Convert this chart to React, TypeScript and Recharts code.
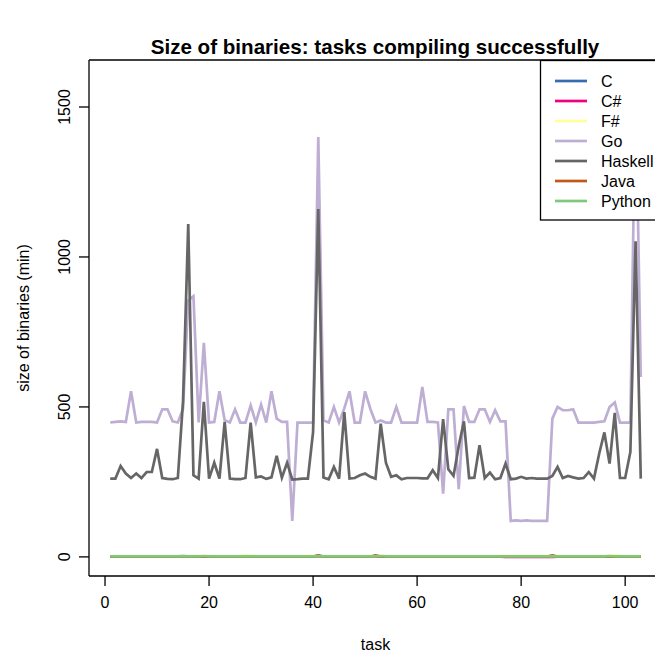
import React from 'react';
import { LineChart, Line, XAxis, YAxis, ReferenceLine } from 'recharts';

const seriesNames = ['C', 'C#', 'F#', 'Go', 'Haskell', 'Java', 'Python'];
const seriesColors = ['#386CB0', '#F0027F', '#FFFF99', '#BEAED4', '#666666', '#BF5B17', '#7FC97F'];

const cValues = [
  2, 2, 2, 2, 2, 2, 2, 2, 2, 2, 2, 2, 2, 2, 3, 2, 2, 2, 2, 2,
  2, 2, 2, 2, 2, 2, 2, 2, 2, 2, 2, 2, 2, 2, 2, 2, 2, 2, 2, 2,
  3, 2, 2, 2, 2, 2, 2, 2, 2, 2, 2, 2, 2, 2, 2, 2, 2, 2, 2, 2,
  2, 2, 2, 2, 2, 2, 2, 2, 2, 2, 2, 2, 2, 2, 2, 2, 2, 2, 2, 2,
  2, 2, 2, 2, 2, 2, 2, 2, 2, 2, 2, 2, 2, 2, 2, 2, 2, 2, 2, 2,
  2, 2, 2,
];
const csValues = [
  1, 1, 1, 1, 1, 1, 1, 1, 1, 1, 1, 1, 1, 1, 1, 1, 1, 1, 1, 1,
  1, 1, 1, 1, 1, 1, 1, 1, 1, 1, 1, 1, 1, 1, 1, 1, 1, 1, 1, 1,
  1, 1, 1, 1, 1, 1, 1, 1, 1, 1, 1, 1, 1, 1, 1, 1, 1, 1, 1, 1,
  1, 1, 1, 1, 1, 1, 1, 1, 1, 1, 1, 1, 1, 1, 1, 1, 0, 0, 0, 0,
  0, 0, 0, 0, 0, 0, 1, 1, 1, 1, 1, 1, 1, 1, 1, 1, 1, 1, 1, 1,
  1, 1, 1,
];
const fsValues = [
  3, 3, 3, 3, 3, 3, 3, 3, 3, 3, 3, 3, 3, 3, 3, 3, 3, 3, 3, 3,
  3, 3, 3, 3, 3, 3, 5, 3, 3, 3, 3, 3, 3, 3, 3, 3, 3, 3, 3, 3,
  3, 3, 3, 3, 3, 3, 3, 3, 3, 3, 3, 3, 3, 3, 3, 3, 3, 3, 3, 3,
  3, 3, 3, 3, 3, 3, 3, 3, 3, 3, 3, 3, 3, 3, 3, 3, 3, 3, 3, 3,
  3, 3, 3, 3, 3, 3, 3, 3, 3, 3, 3, 3, 3, 3, 3, 3, 3, 6, 3, 3,
  3, 3, 3,
];
const goValues = [
  448, 450, 452, 450, 552, 448, 450, 450, 450, 448,
  492, 492, 452, 448, 494, 855, 869, 448, 714, 448,
  450, 552, 456, 448, 492, 448, 448, 505, 448, 508,
  448, 552, 461, 450, 450, 120, 448, 448, 448, 448,
  1400, 455, 448, 500, 448, 495, 552, 448, 448, 552,
  494, 448, 455, 448, 448, 500, 448, 448, 448, 448,
  567, 450, 450, 448, 211, 492, 492, 226, 503, 450,
  450, 492, 492, 450, 489, 452, 452, 120, 122, 120,
  122, 120, 120, 120, 120, 461, 500, 489, 489, 492,
  448, 448, 448, 448, 450, 452, 500, 515, 448, 448,
  448, 1590, 600,
];
const haskellValues = [
  261, 261, 303, 278, 263, 278, 263, 283, 283, 360,
  263, 260, 259, 263, 520, 1110, 272, 261, 517, 261,
  314, 261, 450, 261, 259, 259, 263, 448, 265, 268,
  260, 265, 337, 264, 314, 258, 259, 261, 261, 417,
  1160, 265, 259, 300, 261, 483, 261, 263, 272, 278,
  267, 261, 444, 314, 267, 272, 259, 263, 263, 263,
  262, 262, 289, 263, 459, 292, 270, 370, 452, 263,
  264, 372, 263, 281, 259, 263, 311, 259, 261, 267,
  261, 263, 261, 261, 261, 270, 300, 263, 270, 265,
  261, 263, 283, 261, 344, 415, 311, 480, 263, 263,
  350, 1052, 261,
];
const javaValues = [
  1, 1, 1, 1, 1, 1, 1, 1, 1, 1, 1, 1, 1, 1, 1, 1, 1, 1, 1, 1,
  1, 1, 1, 1, 1, 1, 1, 1, 1, 1, 1, 1, 1, 1, 1, 1, 1, 1, 1, 1,
  5, 1, 1, 1, 1, 1, 1, 1, 1, 1, 1, 5, 1, 1, 1, 1, 1, 1, 1, 1,
  1, 1, 1, 1, 1, 1, 1, 1, 1, 1, 1, 1, 1, 1, 1, 1, 1, 1, 1, 1,
  1, 1, 1, 1, 1, 5, 1, 1, 1, 1, 1, 1, 1, 1, 1, 1, 1, 1, 1, 1,
  1, 1, 1,
];
const pythonValues = [
  2, 2, 2, 2, 2, 2, 2, 2, 2, 2, 2, 2, 2, 2, 2, 2, 2, 2, 3, 2,
  2, 2, 2, 2, 2, 2, 2, 2, 2, 2, 2, 2, 2, 2, 2, 2, 2, 2, 2, 2,
  2, 2, 2, 2, 2, 2, 2, 2, 2, 2, 2, 2, 3, 2, 2, 2, 2, 2, 2, 2,
  2, 2, 2, 2, 2, 2, 2, 2, 2, 2, 2, 2, 2, 2, 2, 2, 2, 2, 2, 2,
  2, 2, 2, 2, 2, 2, 2, 2, 2, 2, 2, 2, 2, 2, 2, 2, 3, 2, 2, 2,
  2, 2, 2,
];

const xTicks = [0, 20, 40, 60, 80, 100];
const yTicks = [0, 500, 1000, 1500];
const xDomain = [-3.08, 107.08];
const yDomain = [-63.7, 1656.7];

const seriesValues = [cValues, csValues, fsValues, goValues, haskellValues, javaValues, pythonValues];
const tasks = goValues.map((_, i) => i + 1);

const rows = tasks.map((task, i) => {
  const row: Record<string, number> = { task };
  seriesNames.forEach((name, k) => {
    row[name] = seriesValues[k][i];
  });
  return row;
});

const FONT = '"Liberation Sans", Arial, Helvetica, sans-serif';

const YTick = ({ x, y, payload }: any) => (
  <text
    x={x - 7}
    y={y}
    transform={`rotate(-90, ${x - 7}, ${y})`}
    textAnchor="middle"
    fontSize={16}
    fontFamily={FONT}
    fill="#000"
  >
    {payload.value}
  </text>
);

const App: React.FC = () => {
  return (
    <div style={{ position: 'fixed', left: 0, top: 0, width: 655, height: 656, overflow: 'hidden', background: '#fff' }}>
      <LineChart
        width={700}
        height={656}
        data={rows}
        margin={{ top: 60, right: 38, bottom: 40, left: 29 }}
      >
        <XAxis
          dataKey="task"
          type="number"
          domain={xDomain}
          ticks={xTicks}
          allowDataOverflow
          height={40}
          tickSize={10}
          tickMargin={11}
          stroke="#000"
          strokeWidth={1.3}
          tick={{ fontSize: 16, fontFamily: FONT, fill: '#000' }}
        />
        <YAxis
          type="number"
          domain={yDomain}
          ticks={yTicks}
          allowDataOverflow
          width={60}
          tickSize={10}
          stroke="#000"
          strokeWidth={1.3}
          tick={<YTick />}
        />
        {/* top edge of the box */}
        <ReferenceLine y={yDomain[1]} stroke="#000" strokeWidth={1.3} ifOverflow="visible" />
        {seriesNames.map((name, k) => (
          <Line
            key={name}
            type="linear"
            dataKey={name}
            stroke={seriesColors[k]}
            strokeWidth={2.7}
            dot={false}
            isAnimationActive={false}
          />
        ))}
      </LineChart>
      <svg
        width={655}
        height={656}
        style={{ position: 'absolute', left: 0, top: 0, pointerEvents: 'none' }}
        fontFamily={FONT}
      >
        <text x={375} y={54} textAnchor="middle" fontSize={20.6} fontWeight="bold" fill="#000">
          Size of binaries: tasks compiling successfully
        </text>
        <text x={375.5} y={650} textAnchor="middle" fontSize={16} fill="#000">
          task
        </text>
        <text
          x={29}
          y={318}
          transform="rotate(-90, 29, 318)"
          textAnchor="middle"
          fontSize={16}
          fill="#000"
        >
          size of binaries (min)
        </text>
        <rect x={540.5} y={60.5} width={200} height={159.5} fill="#fff" stroke="#000" strokeWidth={1.3} />
        {seriesNames.map((name, k) => (
          <g key={name}>
            <line x1={555} x2={587} y1={81 + 20 * k} y2={81 + 20 * k} stroke={seriesColors[k]} strokeWidth={2.7} />
            <text x={601} y={81 + 20 * k + 5.8} fontSize={16} fill="#000">
              {name}
            </text>
          </g>
        ))}
      </svg>
    </div>
  );
};

export default App;
